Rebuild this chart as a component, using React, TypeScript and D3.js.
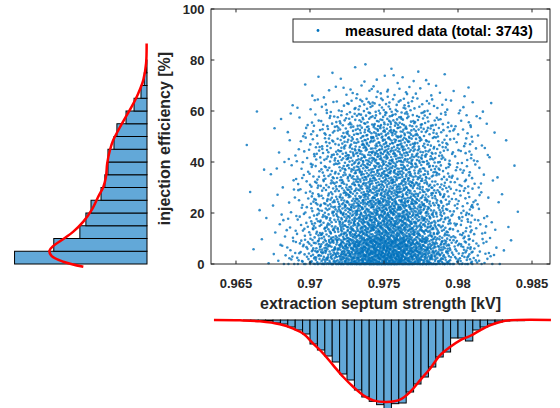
import React, { useMemo } from 'react';
import * as d3 from 'd3';

const W = 560;
const H = 408;

// scatter axes
const xTicks = [0.965, 0.97, 0.975, 0.98, 0.985];
const xTickLabels = ['0.965', '0.97', '0.975', '0.98', '0.985'];
const yTicks = [0, 20, 40, 60, 80, 100];

// extraction septum strength histogram (lower bin edges, 0.0005 kV wide)
const strengthBinWidth = 0.0005;
const strengthBins = [
  0.9655, 0.966, 0.9665, 0.967, 0.9675, 0.968, 0.9685, 0.969, 0.9695, 0.97,
  0.9705, 0.971, 0.9715, 0.972, 0.9725, 0.973, 0.9735, 0.974, 0.9745, 0.975,
  0.9755, 0.976, 0.9765, 0.977, 0.9775, 0.978, 0.9785, 0.979, 0.9795, 0.98,
  0.9805, 0.981, 0.9815, 0.982, 0.9825, 0.983, 0.9835, 0.984,
];
const strengthCounts = [
  2, 2, 3, 3, 9, 12, 21, 30, 42, 72,
  90, 108, 126, 162, 180, 210, 231, 244, 254, 268,
  251, 249, 216, 192, 171, 141, 111, 96, 54, 54,
  63, 30, 21, 12, 6, 3, 2, 2,
];

// injection efficiency histogram (lower bin edges, 5 % wide)
const effBinWidth = 5;
const effBins = [0, 5, 10, 15, 20, 25, 30, 35, 40, 45, 50, 55, 60, 65, 70, 75];
const effCounts = [726, 511, 368, 335, 307, 252, 231, 214, 214, 181, 165, 115, 71, 33, 15, 5];
const effAtZero = 170; // shots of the first bin that sit at exactly 0 %

// fitted density curves (in histogram counts)
const strengthFitX = [
  0.96351, 0.96527, 0.96662, 0.96797, 0.96887, 0.96955, 0.97022, 0.9709, 0.97157,
  0.97225, 0.97293, 0.9736, 0.97428, 0.97518, 0.97608, 0.97676, 0.97743, 0.97811,
  0.97878, 0.97946, 0.98014, 0.98081, 0.98149, 0.98216, 0.98284, 0.98351, 0.98628,
];
const strengthFitCount = [
  0, 1, 4, 13, 26, 41, 71, 101, 136,
  171, 201, 226, 241, 246, 239, 216, 181, 146,
  106, 81, 61, 48, 31, 16, 6, 1, 0,
];
const effFitY = [
  86.5, 78.7, 72.2, 66.9, 61.7, 57.1, 52.5, 48.6, 44.7, 39.5, 34.2,
  30.3, 26.4, 21.2, 16.6, 12.7, 9.4, 7.1, 5.2, 3.1, 0.9, -1.1,
];
const effFitCount = [
  2, 5, 20, 48, 84, 121, 157, 185, 203, 218, 225,
  239, 267, 303, 349, 404, 467, 513, 535, 522, 459, 349,
];

const legendText = 'measured data (total: 3743)';

const FONT = 'Arial, "Liberation Sans", Helvetica, sans-serif';
const AXIS_COLOR = '#262626';
const BLUE = '#0072BD';
const BAR_FILL = '#62A8D8';

// quasi-random (Halton) placement through the histograms' cumulative counts
const halton = (i: number, b: number) => {
  let f = 1;
  let r = 0;
  while (i > 0) {
    f /= b;
    r += f * (i % b);
    i = Math.floor(i / b);
  }
  return r;
};

const fromHist = (u: number, edges: number[], width: number, counts: number[]) => {
  const total = d3.sum(counts);
  let t = u * total;
  for (let k = 0; k < counts.length; k++) {
    if (t < counts[k]) return edges[k] + (width * t) / counts[k];
    t -= counts[k];
  }
  return edges[edges.length - 1] + width;
};

export default function App() {
  const plot = { left: 211, right: 550, top: 9, bottom: 264 };

  const xScale = d3.scaleLinear().domain([0.963311, 0.986216]).range([plot.left, plot.right]);
  const yScale = d3.scaleLinear().domain([0, 100]).range([plot.bottom, plot.top]);

  // side histograms
  const leftEdge = 147;
  const leftScale = d3.scaleLinear().domain([0, 740]).range([0, 135]);
  const bottomBase = 320;
  const depthScale = d3.scaleLinear().domain([0, 270]).range([0, 90]);

  const points = useMemo(() => {
    const n = d3.sum(effCounts);
    const zeroFrac = effAtZero / n;
    const firstFrac = effCounts[0] / n;
    const pts: [number, number][] = [];
    for (let i = 1; i <= n; i++) {
      const ux = halton(i + 20, 2);
      const uy = halton(i + 20, 3);
      const x = fromHist(ux, strengthBins, strengthBinWidth, strengthCounts);
      let y: number;
      if (uy < zeroFrac) y = 0;
      else if (uy < firstFrac) y = (effBinWidth * (uy - zeroFrac)) / (firstFrac - zeroFrac);
      else y = fromHist(uy, effBins, effBinWidth, effCounts);
      pts.push([x, y]);
    }
    return pts;
  }, []);

  const bottomFit = d3
    .line<number>()
    .x((_, i) => xScale(strengthFitX[i]))
    .y((d) => bottomBase + depthScale(d))
    .curve(d3.curveCatmullRom)(strengthFitCount);

  const leftFit = d3
    .line<number>()
    .x((d) => leftEdge - leftScale(d))
    .y((_, i) => yScale(effFitY[i]))
    .curve(d3.curveCatmullRom)(effFitCount);

  const tick = 3.4;

  return (
    <svg
      width={W}
      height={H}
      viewBox={`0 0 ${W} ${H}`}
      style={{ position: 'absolute', left: 0, top: 0, background: '#fff', fontFamily: FONT }}
    >
      <rect x={0} y={0} width={W} height={H} fill="#fff" />

      {/* scatter */}
      <g>
        {points.map(([x, y], i) => (
          <circle key={i} cx={xScale(x)} cy={yScale(y)} r={1.3} fill={BLUE} fillOpacity={0.8} />
        ))}
      </g>

      {/* axes box */}
      <rect
        x={plot.left}
        y={plot.top}
        width={plot.right - plot.left}
        height={plot.bottom - plot.top}
        fill="none"
        stroke={AXIS_COLOR}
        strokeWidth={1}
      />
      {xTicks.map((t, i) => (
        <g key={`xt-${t}`}>
          <line x1={xScale(t)} x2={xScale(t)} y1={plot.bottom} y2={plot.bottom - tick} stroke={AXIS_COLOR} />
          <line x1={xScale(t)} x2={xScale(t)} y1={plot.top} y2={plot.top + tick} stroke={AXIS_COLOR} />
          <text
            x={xScale(t)}
            y={287.5}
            textAnchor="middle"
            fill={AXIS_COLOR}
            style={{ fontSize: 13, fontWeight: 'bold' }}
          >
            {xTickLabels[i]}
          </text>
        </g>
      ))}
      {yTicks.map((t) => (
        <g key={`yt-${t}`}>
          <line x1={plot.left} x2={plot.left + tick} y1={yScale(t)} y2={yScale(t)} stroke={AXIS_COLOR} />
          <line x1={plot.right} x2={plot.right - tick} y1={yScale(t)} y2={yScale(t)} stroke={AXIS_COLOR} />
          <text
            x={plot.left - 6.5}
            y={yScale(t) + 4.5}
            textAnchor="end"
            fill={AXIS_COLOR}
            style={{ fontSize: 13, fontWeight: 'bold' }}
          >
            {t}
          </text>
        </g>
      ))}

      {/* axis labels */}
      <text
        x={(plot.left + plot.right) / 2}
        y={309}
        textAnchor="middle"
        fill={AXIS_COLOR}
        style={{ fontSize: 16, fontWeight: 'bold' }}
      >
        extraction septum strength [kV]
      </text>
      <text
        transform={`translate(170, 138.5) rotate(-90)`}
        textAnchor="middle"
        fill={AXIS_COLOR}
        style={{ fontSize: 16, fontWeight: 'bold' }}
      >
        injection efficiency [%]
      </text>

      {/* legend */}
      <rect x={293} y={19} width={254} height={23} fill="#fff" stroke={AXIS_COLOR} strokeWidth={1} />
      <circle cx={318} cy={30.5} r={1.4} fill={BLUE} />
      <text x={345} y={35.5} fill="#000" style={{ fontSize: 14.5, fontWeight: 'bold' }}>
        {legendText}
      </text>

      {/* left histogram: injection efficiency */}
      <g>
        {effBins.map((b, i) => {
          const w = leftScale(effCounts[i]);
          return (
            <rect
              key={`eb-${b}`}
              x={leftEdge - w}
              y={yScale(b + effBinWidth)}
              width={w}
              height={yScale(b) - yScale(b + effBinWidth)}
              fill={BAR_FILL}
              stroke="#000"
              strokeWidth={1}
            />
          );
        })}
        <path d={leftFit ?? ''} fill="none" stroke="#ff0000" strokeWidth={2.5} strokeLinejoin="round" />
      </g>

      {/* bottom histogram: septum strength */}
      <g>
        {strengthBins.map((b, i) => (
          <rect
            key={`sb-${b}`}
            x={xScale(b)}
            y={bottomBase}
            width={xScale(b + strengthBinWidth) - xScale(b)}
            height={depthScale(strengthCounts[i])}
            fill={BAR_FILL}
            stroke="#000"
            strokeWidth={1}
          />
        ))}
        <path d={bottomFit ?? ''} fill="none" stroke="#ff0000" strokeWidth={2.5} strokeLinejoin="round" />
      </g>
    </svg>
  );
}
